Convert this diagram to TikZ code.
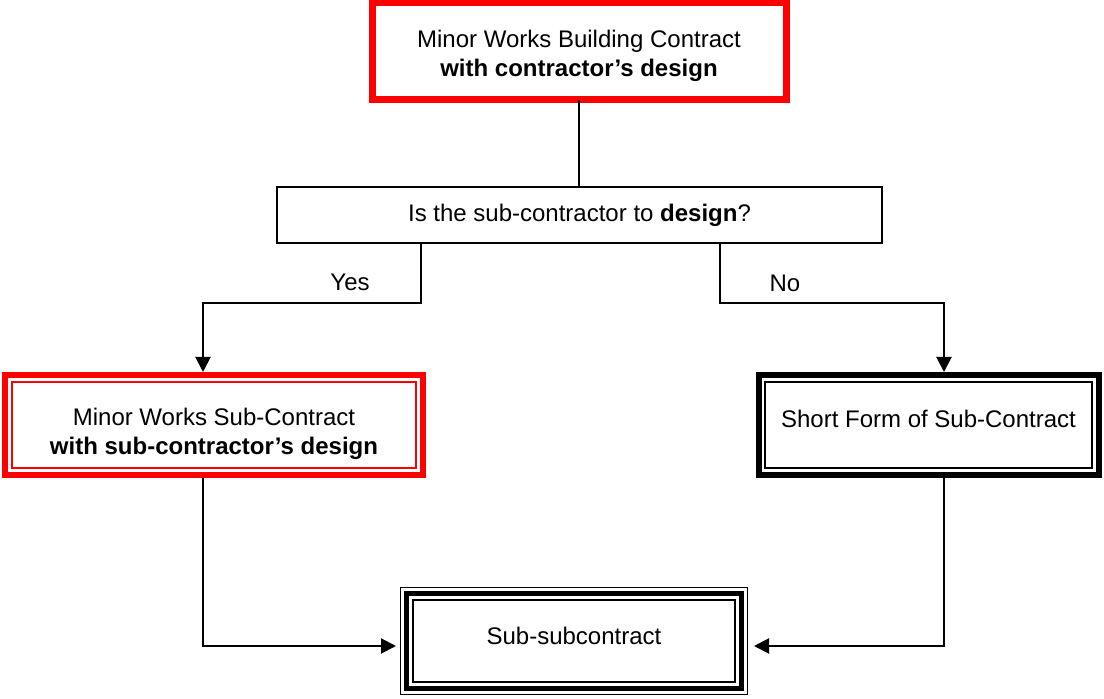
\documentclass[tikz,border=0pt]{standalone}
\usepackage{fontspec}
\setmainfont{Liberation Sans}
\usetikzlibrary{arrows.meta}
\definecolor{frameRed}{HTML}{FF0000}

\tikzset{
  box/.style={draw, inner sep=0pt, outer sep=0pt, align=center},
  link/.style={line width=1pt},
  arrow/.style={link, -{Triangle[length=7.5pt,width=7.5pt]}},
}

\begin{document}
\begin{tikzpicture}[x=0.5pt,y=-0.5pt, font=\fontsize{12}{14.5}\selectfont]
  \useasboundingbox (0,0) rectangle (1104,699);

  % main contract and question
  \node[box, draw=frameRed, line width=3.5pt, minimum width=207pt, minimum height=48.5pt] (main) at (579,51.5) {\raisebox{-2pt}[\height][\depth]{Minor Works Building Contract}\\\raisebox{-2pt}[\height][\depth]{\textbf{with contractor’s design}}};
  \node[box, line width=1pt, minimum width=302.5pt, minimum height=28pt] (quest) at (579.5,215) {Is the sub-contractor to \textbf{design}?};

  % sub-contracts
  \node[box, draw=frameRed, line width=0.75pt, minimum width=202pt, minimum height=43pt] (minorsub) at (214,425) {\raisebox{-4.5pt}[\height][\depth]{Minor Works Sub-Contract}\\\raisebox{-4.5pt}[\height][\depth]{\textbf{with sub-contractor’s design}}};
  \node[box, line width=0.75pt, minimum width=163.5pt, minimum height=43pt] (shortsub) at (928.5,425) {\raisebox{6pt}{Short Form of Sub-Contract}};
  \node[box, line width=1pt, minimum width=161pt, minimum height=41pt] (subsub) at (574,641) {\raisebox{5pt}{Sub-subcontract}};

  \node (yes) at (350,282) {Yes};
  \node (no) at (785,283) {No};

  % connectors
  \draw[link] (main.south) -- (main.south |- quest.north);
  \draw[arrow, shorten >=5pt] ([xshift=-79.25pt]quest.south) -- ++(0,60) -| ([xshift=-5.5pt]minorsub.north);
  \draw[arrow, shorten >=5pt] ([xshift=70.25pt]quest.south) -- ++(0,60) -| ([xshift=7.75pt]shortsub.north);
  \draw[arrow, shorten <=3.5pt, shorten >=8.5pt] ([xshift=-5.5pt]minorsub.south) |- ([yshift=-2.5pt]subsub.west);
  \draw[arrow, shorten <=3.5pt, shorten >=9.5pt] ([xshift=7.75pt]shortsub.south) |- ([yshift=-2.5pt]subsub.east);

  % outer frames
  \draw[frameRed, line width=3pt] ([shift={(-3.5pt,3.5pt)}]minorsub.north west) rectangle ([shift={(3.5pt,-3.5pt)}]minorsub.south east);
  \draw[line width=3pt] ([shift={(-3.25pt,3.5pt)}]shortsub.north west) rectangle ([shift={(3.25pt,-3.5pt)}]shortsub.south east);
  \draw[line width=2.5pt] ([shift={(-3.25pt,3.25pt)}]subsub.north west) rectangle ([shift={(3.25pt,-3.25pt)}]subsub.south east);
  \draw[line width=0.75pt] ([shift={(-6.25pt,6.25pt)}]subsub.north west) rectangle ([shift={(6.25pt,-6.25pt)}]subsub.south east);
\end{tikzpicture}
\end{document}
